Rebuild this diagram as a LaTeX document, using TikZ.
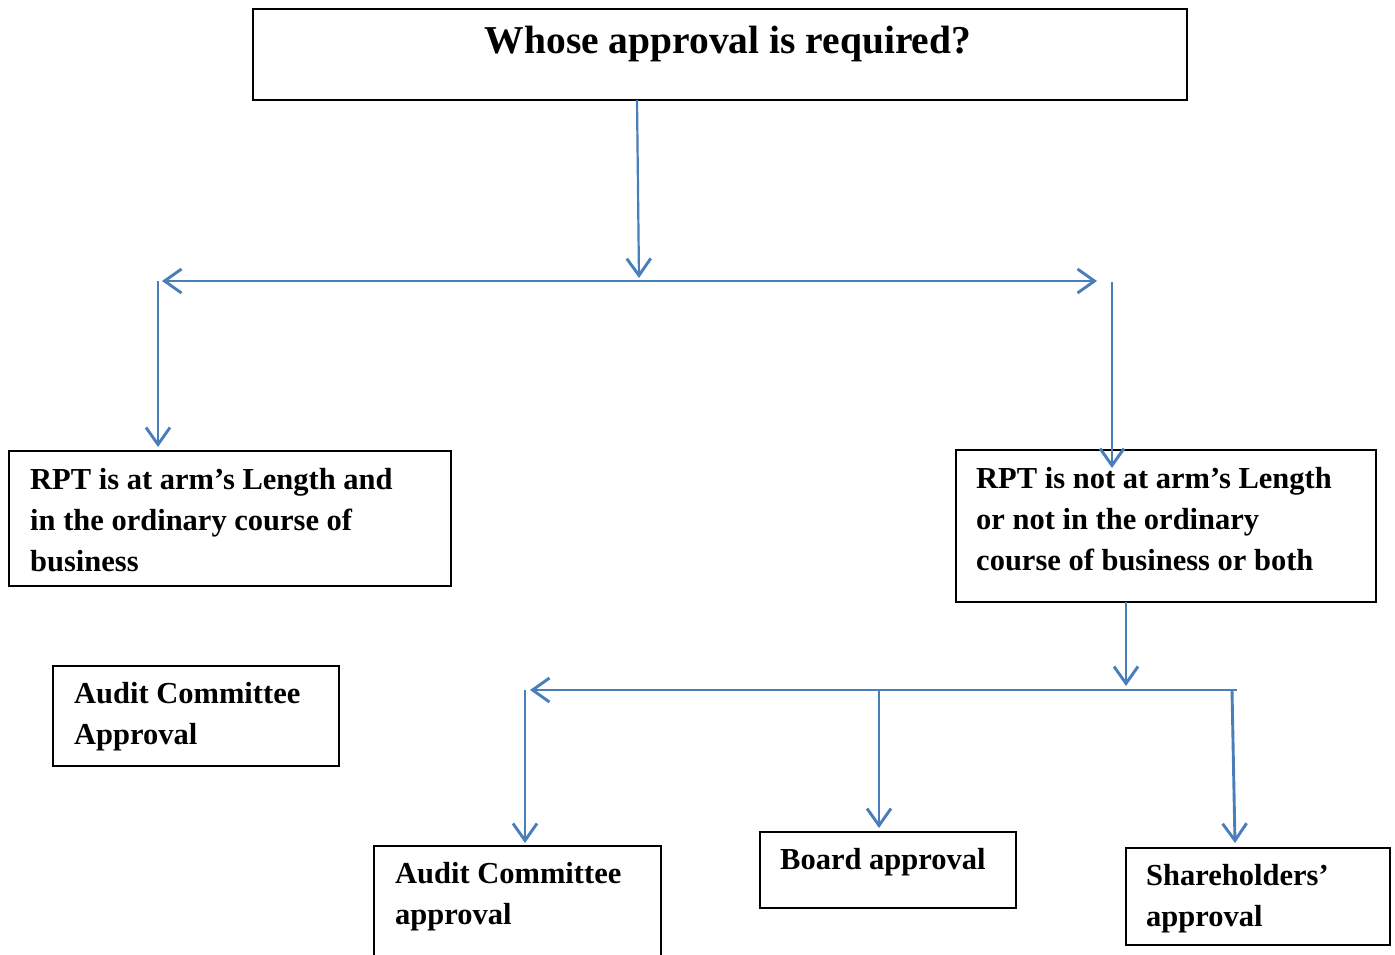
\documentclass[tikz,border=0pt]{standalone}
\usepackage{fontspec}
\setmainfont{Liberation Serif}
\usetikzlibrary{arrows.meta}
\definecolor{arrowblue}{HTML}{4A7EBB}
\newcommand{\lines}[1]{\begin{tabular}[t]{@{}l@{}}#1\end{tabular}}
\tikzset{
  box/.style={draw=black, line width=1.3pt, fill=white},
  conn/.style={draw=arrowblue, line width=2.9pt},
  barb/.tip={Straight Barb[length=17pt,width=24pt,line width=2.9pt]},
  tip/.style={-barb},
  btext/.style={anchor=base west, font=\fontsize{30.5}{41}\selectfont\bfseries, inner sep=0pt},
}
\begin{document}
\begin{tikzpicture}[x=1pt,y=-1pt]
\useasboundingbox (0,0) rectangle (1395,955);
% boxes
\draw[box] (253,9) rectangle (1187,100);
\node[font=\fontsize{39.5}{44}\selectfont\bfseries, anchor=base, inner sep=0pt] (title) at (728,54) {Whose approval is required?};
\draw[box] (9,451) rectangle (451,586);
\node[btext] (left) at (30,489) {\lines{RPT is at arm’s Length and\\in the ordinary course of\\business}};
\draw[box] (956,450) rectangle (1376,602);
\node[btext] (right) at (976,488) {\lines{RPT is not at arm’s Length\\or not in the ordinary\\course of business or both}};
\draw[box] (53,666) rectangle (339,766);
\node[btext] (acA) at (74,703) {\lines{Audit Committee\\Approval}};
\draw[box] (374,846) rectangle (661,965);
\node[btext] (aca) at (395,883) {\lines{Audit Committee\\approval}};
\draw[box] (760,832) rectangle (1016,908);
\node[btext] (board) at (780,869) {Board approval};
\draw[box] (1126,848) rectangle (1390,945);
\node[btext] (share) at (1146,885) {\lines{Shareholders’\\approval}};
% coordinates
\coordinate (t0) at (637,100);
\coordinate (t1) at (639,278);
\coordinate (hl) at (162,281);
\coordinate (hr) at (1097,281);
\coordinate (l0) at (158,281);
\coordinate (l1) at (158,447);
\coordinate (r0) at (1112,282);
\coordinate (r1) at (1112,468);
\coordinate (s0) at (1126,602);
\coordinate (s1) at (1126,686);
\coordinate (g0) at (1237,690);
\coordinate (g1) at (530,690);
\coordinate (a0) at (525,690);
\coordinate (a1) at (525,843);
\coordinate (b0) at (879,690);
\coordinate (b1) at (879,828);
\coordinate (c0) at (1232,690);
\coordinate (c1) at (1235,843);
% connectors
\draw[conn, tip, line width=2.2pt] (t0) -- (t1);
\draw[conn, barb-barb] (hl) -- (hr);
\draw[conn, tip] (l0) -- (l1);
\draw[conn, tip] (r0) -- (r1);
\draw[conn, tip] (s0) -- (s1);
\draw[conn, tip] (g0) -- (g1);
\draw[conn, tip] (a0) -- (a1);
\draw[conn, tip] (b0) -- (b1);
\draw[conn, tip] (c0) -- (c1);
\end{tikzpicture}
\end{document}
